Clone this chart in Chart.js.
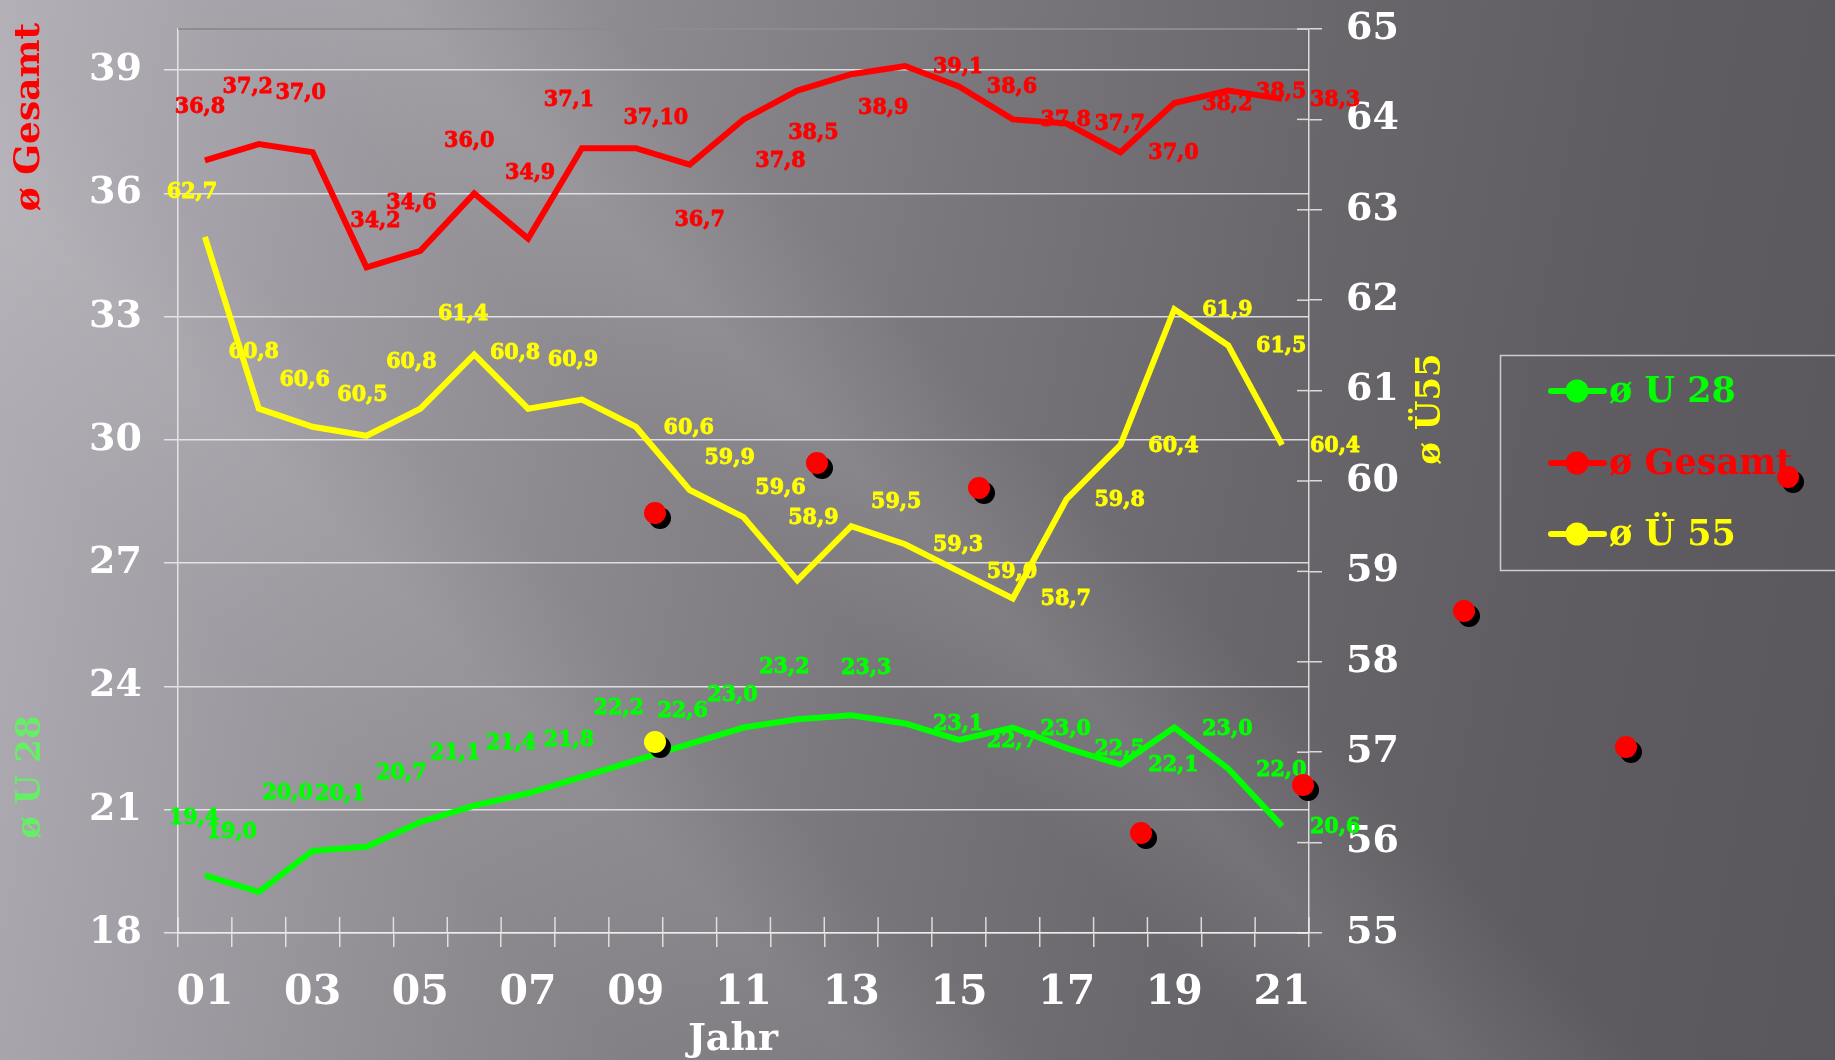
<!DOCTYPE html>
<html>
<head>
<meta charset="utf-8">
<script src="https://cdn.jsdelivr.net/npm/chart.js@4.4.1/dist/chart.umd.min.js"></script>
<style>
html,body{margin:0;padding:0;width:1835px;height:1060px;overflow:hidden;background:#6a686d;}
#bg{position:absolute;left:0;top:0;width:1835px;height:1060px;
 background:
  linear-gradient(45deg, rgba(255,255,255,0) 22%, rgba(255,255,255,0.07) 30%, rgba(255,255,255,0) 36%, rgba(255,255,255,0) 44%, rgba(255,255,255,0.09) 50%, rgba(255,255,255,0) 57%),
  linear-gradient(100deg, #b3b0b7 0%, #a29fa6 14%, #8c898f 32%, #78767b 50%, #69676c 66%, #5f5d62 82%, #59575c 100%);}
#wrap{position:absolute;left:0;top:0;width:1835px;height:1060px;}
#decor{position:absolute;left:0;top:0;width:1835px;height:1060px;pointer-events:none;}
.dot{position:absolute;width:22px;height:22px;border-radius:50%;box-shadow:5px 5px 0 0 #000;}
</style>
</head>
<body>
<div id="bg"></div>
<div id="wrap"><canvas id="c" width="1835" height="1060"></canvas></div>
<div id="decor"></div>
<script>
// ---------- data ----------
const years = ['01','02','03','04','05','06','07','08','09','10','11','12','13','14','15','16','17','18','19','20','21'];
const u28    = [19.4,19.0,20.0,20.1,20.7,21.1,21.4,21.8,22.2,22.6,23.0,23.2,23.3,23.1,22.7,23.0,22.5,22.1,23.0,22.0,20.6];
const gesamt = [36.8,37.2,37.0,34.2,34.6,36.0,34.9,37.1,37.1,36.7,37.8,38.5,38.9,39.1,38.6,37.8,37.7,37.0,38.2,38.5,38.3];
const ue55   = [62.7,60.8,60.6,60.5,60.8,61.4,60.8,60.9,60.6,59.9,59.6,58.9,59.5,59.3,59.0,58.7,59.8,60.4,61.9,61.5,60.4];
const leftTicks  = [18,21,24,27,30,33,36,39];
const rightTicks = [55,56,57,58,59,60,61,62,63,64,65];
const seriesNames = ['ø U 28','ø Gesamt','ø Ü 55'];
const gesamtLabelText = {8:'37,10'};

// ---------- label placement (offsets from point, px) ----------
const R = [53,1];
const offU28 = [[-11,-57],[-27,-60],[-25,-58],[-26,-53],[-19,-49],[-19,-53],[-17,-50],[-13,-37],[-17,-52],[-7,-33],[-11,-33],[-13,-52],[15,-47],R,R,R,R,R,R,R,R];
const offGes = [[-5,-53],[-11,-57],[-12,-59],[9,-46],[-9,-48],[-5,-52],[2,-66],[-13,-48],[20,-30],[10,55],[37,42],[16,42],[32,34],R,R,R,R,R,R,R,R];
const offUe  = [[-13,-45],[-5,-57],[-8,-47],[-4,-41],[-9,-47],[-11,-40],[-13,-56],[-9,-40],R,[40,-32],[37,-29],[16,-62],[45,-24],R,R,R,R,R,R,R,R];

const SERIF = "'DejaVu Serif', 'Liberation Serif', serif";
const GREEN = '#00ff00', RED = '#ff0000', YELLOW = '#ffff00';
const GRID = 'rgba(238,238,238,0.85)';

function fmt(v){ return v.toFixed(1).replace('.', ','); }

const labelPlugin = {
  id: 'valueLabels',
  afterDatasetsDraw(chart){
    const ctx = chart.ctx;
    const offs = [offU28, offGes, offUe];
    ctx.save();
    ctx.font = "bold 23px 'DejaVu Serif Condensed', " + SERIF;
    ctx.textAlign = 'center';
    ctx.textBaseline = 'middle';
    ctx.lineWidth = 0.8;
    ctx.lineJoin = 'round';
    chart.data.datasets.forEach((ds, di) => {
      const meta = chart.getDatasetMeta(di);
      ctx.fillStyle = ds.borderColor;
      ctx.strokeStyle = ds.borderColor;
      meta.data.forEach((pt, i) => {
        let txt = fmt(ds.data[i]);
        if (di === 1 && gesamtLabelText[i]) txt = gesamtLabelText[i];
        const o = offs[di][i];
        ctx.fillText(txt, pt.x + o[0], pt.y + o[1]);
        ctx.strokeText(txt, pt.x + o[0], pt.y + o[1]);
      });
    });
    ctx.restore();
  }
};

const decoPlugin = {
  id: 'deco',
  beforeDatasetsDraw(chart){
    const {ctx, chartArea:a, scales} = chart;
    ctx.save();
    ctx.strokeStyle = 'rgba(140,140,140,0.95)';
    ctx.lineWidth = 2;
    ctx.beginPath(); ctx.moveTo(a.left, a.top); ctx.lineTo(a.right, a.top); ctx.stroke();
    ctx.strokeStyle = GRID; ctx.lineWidth = 1.5;
    for (let i = 0; i <= years.length; i++) {
      const x = scales.x.getPixelForValue(i - 0.5);
      ctx.beginPath(); ctx.moveTo(x, a.bottom - 16); ctx.lineTo(x, a.bottom); ctx.stroke();
    }
    rightTicks.forEach(v => {
      const y = scales.y2.getPixelForValue(v);
      ctx.beginPath(); ctx.moveTo(a.right - 12, y); ctx.lineTo(a.right, y); ctx.stroke();
    });
    ctx.restore();
  },
  afterDraw(chart){
    const ctx = chart.ctx;
    ctx.save();
    ctx.textAlign = 'center';
    ctx.textBaseline = 'middle';
    const vtext = (t, x, y, font, color) => {
      ctx.save(); ctx.translate(x, y); ctx.rotate(-Math.PI/2);
      ctx.font = font; ctx.fillStyle = color; ctx.fillText(t, 0, 0); ctx.restore();
    };
    vtext('ø Gesamt', 30, 117, 'bold 36px ' + SERIF, RED);
    vtext('ø U 28', 31, 777, 'bold 34px ' + SERIF, 'rgba(95,245,95,0.9)');
    vtext('ø Ü55', 1431, 409, 'bold 34px ' + SERIF, YELLOW);
    ctx.font = 'bold 38px ' + SERIF; ctx.fillStyle = '#ffffff';
    ctx.fillText('Jahr', 733, 1040);
    ctx.strokeStyle = 'rgba(225,225,225,0.85)'; ctx.lineWidth = 1.5;
    ctx.strokeRect(1500.5, 355.5, 400, 215);
    const ys = [391, 463, 534];
    chart.data.datasets.forEach((ds, i) => {
      const y = ys[i];
      ctx.strokeStyle = ds.borderColor; ctx.lineWidth = 6; ctx.lineCap = 'round';
      ctx.beginPath(); ctx.moveTo(1551, y); ctx.lineTo(1604, y); ctx.stroke();
      ctx.fillStyle = ds.borderColor;
      ctx.beginPath(); ctx.arc(1577, y, 11.5, 0, Math.PI*2); ctx.fill();
      ctx.font = 'bold 35px ' + SERIF; ctx.textAlign = 'left';
      ctx.fillText(ds.label, 1609, y + 2);
    });
    ctx.restore();
  }
};

const chart = new Chart(document.getElementById('c'), {
  type: 'line',
  data: {
    labels: years,
    datasets: [
      {label: seriesNames[0], data: u28, yAxisID: 'y', borderColor: GREEN, backgroundColor: GREEN},
      {label: seriesNames[1], data: gesamt, yAxisID: 'y', borderColor: RED, backgroundColor: RED},
      {label: seriesNames[2], data: ue55, yAxisID: 'y2', borderColor: YELLOW, backgroundColor: YELLOW}
    ]
  },
  options: {
    responsive: false,
    animation: false,
    layout: {padding: {top: 29, left: 0, right: 0, bottom: 0}},
    elements: {
      line: {borderWidth: 6, tension: 0, borderJoinStyle: 'miter', borderCapStyle: 'butt'},
      point: {radius: 0, hoverRadius: 0}
    },
    plugins: {legend: {display: false}, tooltip: {enabled: false}, title: {display: false}},
    scales: {
      x: {
        type: 'category',
        offset: true,
        afterFit(s){ s.height = 127; s.paddingLeft = 0; s.paddingRight = 0; },
        grid: {offset: true, drawOnChartArea: false, drawTicks: true, tickLength: 14, color: GRID, lineWidth: 1.5},
        border: {display: true, color: GRID, width: 1.5},
        ticks: {
          autoSkip: false, maxRotation: 0, minRotation: 0, padding: 22,
          color: '#ffffff', font: {family: SERIF, size: 41, weight: 'bold'},
          callback: (v, i) => (i % 2 === 0 ? years[i] : '')
        }
      },
      y: {
        position: 'left', min: 18, max: 40,
        afterFit(s){ s.width = 178; s.paddingTop = 0; s.paddingBottom = 0; },
        afterBuildTicks(s){ s.ticks = leftTicks.map(v => ({value: v})); },
        grid: {drawOnChartArea: true, drawTicks: true, tickLength: 14, color: GRID, lineWidth: 1.5},
        border: {display: true, color: GRID, width: 1.5},
        ticks: {padding: 22, color: '#ffffff', font: {family: SERIF, size: 38, weight: 'bold'}}
      },
      y2: {
        position: 'right', min: 55, max: 65,
        afterFit(s){ s.width = 1835 - 1309; s.paddingTop = 0; s.paddingBottom = 0; },
        afterBuildTicks(s){ s.ticks = rightTicks.map(v => ({value: v})); },
        grid: {drawOnChartArea: false, drawTicks: true, tickLength: 13, color: GRID, lineWidth: 1.5},
        border: {display: true, color: GRID, width: 1.5},
        ticks: {padding: 24, color: '#ffffff', font: {family: SERIF, size: 38, weight: 'bold'}}
      }
    }
  },
  plugins: [decoPlugin, labelPlugin]
});

// decorative template bullets (background art, not data)
const decorDots = [[655,513,'#ff0000'],[817,463,'#ff0000'],[979,488,'#ff0000'],[1141,833,'#ff0000'],[1303,785,'#ff0000'],[1464,611,'#ff0000'],[1626,747,'#ff0000'],[1788,477,'#ff0000'],[655,742,'#ffff00']];
const decor = document.getElementById('decor');
decorDots.forEach(d => {
  const el = document.createElement('div');
  el.className = 'dot';
  el.style.left = (d[0] - 11) + 'px';
  el.style.top = (d[1] - 11) + 'px';
  el.style.background = d[2];
  decor.appendChild(el);
});
</script>
</body>
</html>
